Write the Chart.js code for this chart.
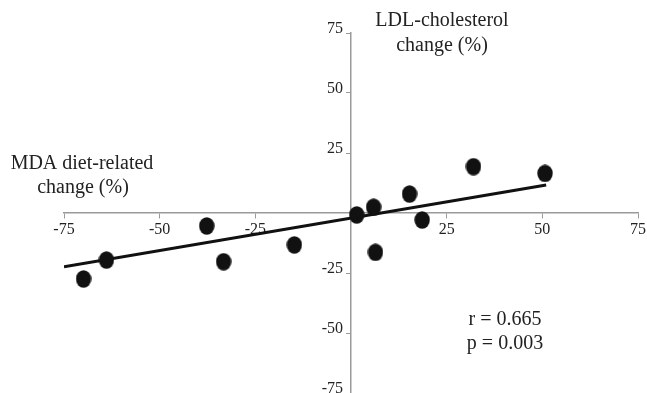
<!DOCTYPE html>
<html>
<head>
<meta charset="utf-8">
<script src="https://cdn.jsdelivr.net/npm/chart.js@4"></script>
<style>
  html, body { margin: 0; padding: 0; background: #fff; }
  #wrap { position: relative; width: 647px; height: 393px; }
</style>
</head>
<body>
<div id="wrap"><canvas id="c" width="647" height="393"></canvas></div>
<script>
// ---- Data ----
const mdaChange = [-69.9, -63.9, -37.7, -33.3, -14.8, 1.5, 5.9, 6.4, 15.3, 18.6, 32.0, 50.7];
const ldlChange = [-27.5, -19.6, -5.4, -20.3, -13.3, -0.8, 2.4, -16.4, 7.9, -2.9, 19.3, 16.5];
const fitLineX = [-75, 51];
const fitLineY = [-22.4, 11.7];
const xTickValues = [-75, -50, -25, 25, 50, 75];
const yTickValues = [75, 50, 25, -25, -50, -75];
const xTitle = ['MDA diet-related', 'change (%)'];
const yTitle = ['LDL-cholesterol', 'change (%)'];
const statsText = ['r = 0.665', 'p = 0.003'];

// ellipse marker
function makeEllipse(w, h, color) {
  const c = document.createElement('canvas');
  c.width = w; c.height = h;
  const g = c.getContext('2d');
  g.fillStyle = color;
  g.beginPath();
  g.ellipse(w / 2, h / 2, w / 2 - 0.3, h / 2 - 0.3, 0, 0, Math.PI * 2);
  g.fill();
  return c;
}
const marker = makeEllipse(16, 18, '#111');

const FONT = "'Liberation Serif', 'Times New Roman', serif";
const axisColor = '#9a9a9a';

function zeroFit(s) {
  if (s.isHorizontal()) { s.height = 0; } else { s.width = 0; }
  s.paddingLeft = 0; s.paddingRight = 0; s.paddingTop = 0; s.paddingBottom = 0;
}

// shift the y tick labels away from the centred axis (Chart.js ignores padding there)
const yLabelShift = {
  id: 'yLabelShift',
  beforeDraw(chart) {
    const s = chart.scales.y;
    const items = s.getLabelItems(chart.chartArea);
    if (items._shifted) return;
    items.forEach(it => { it.options.translation[0] -= 8; it.options.translation[1] -= 4; });
    items._shifted = true;
  }
};

const textPlugin = {
  id: 'texts',
  afterDraw(chart) {
    const ctx = chart.ctx;
    ctx.save();
    ctx.fillStyle = '#222';
    ctx.textAlign = 'center';
    ctx.textBaseline = 'middle';
    ctx.font = "20px " + FONT;
    ctx.fillText(xTitle[0], 82, 164);
    ctx.fillText(xTitle[1], 83, 188);
    ctx.fillText(yTitle[0], 442, 21);
    ctx.fillText(yTitle[1], 442, 46);
    ctx.fillText(statsText[0], 505, 320);
    ctx.fillText(statsText[1], 505, 344);
    ctx.restore();
  }
};

new Chart(document.getElementById('c'), {
  type: 'scatter',
  data: {
    datasets: [
      {
        type: 'line',
        data: fitLineX.map((x, i) => ({ x: x, y: fitLineY[i] })),
        borderColor: '#111',
        borderWidth: 3,
        pointRadius: 0,
        fill: false,
        order: 2
      },
      {
        data: mdaChange.map((x, i) => ({ x: x, y: ldlChange[i] })),
        pointStyle: marker,
        backgroundColor: '#111',
        borderColor: '#111',
        order: 1
      }
    ]
  },
  options: {
    responsive: false,
    animation: false,
    layout: { autoPadding: false, padding: { left: 64, right: 9, top: 33, bottom: 0 } },
    plugins: { legend: { display: false }, tooltip: { enabled: false } },
    scales: {
      x: {
        type: 'linear',
        min: -75, max: 75,
        position: { y: 0 },
        afterBuildTicks: (s) => { s.ticks = xTickValues.map(v => ({ value: v })); },
        afterFit: zeroFit,
        grid: { drawOnChartArea: false, drawTicks: true, tickLength: 5, color: axisColor, lineWidth: 1 },
        border: { color: axisColor, width: 1.5 },
        ticks: { font: { family: FONT, size: 16 }, color: '#222', padding: 2, maxRotation: 0, autoSkip: false }
      },
      y: {
        type: 'linear',
        min: -75, max: 75,
        position: { x: 0 },
        afterBuildTicks: (s) => { s.ticks = yTickValues.map(v => ({ value: v })); },
        afterFit: zeroFit,
        grid: { drawOnChartArea: false, drawTicks: true, tickLength: 4, color: axisColor, lineWidth: 1 },
        border: { color: axisColor, width: 1.5 },
        ticks: { font: { family: FONT, size: 16 }, color: '#222', padding: 4, autoSkip: false }
      }
    }
  },
  plugins: [yLabelShift, textPlugin]
});
</script>
</body>
</html>
